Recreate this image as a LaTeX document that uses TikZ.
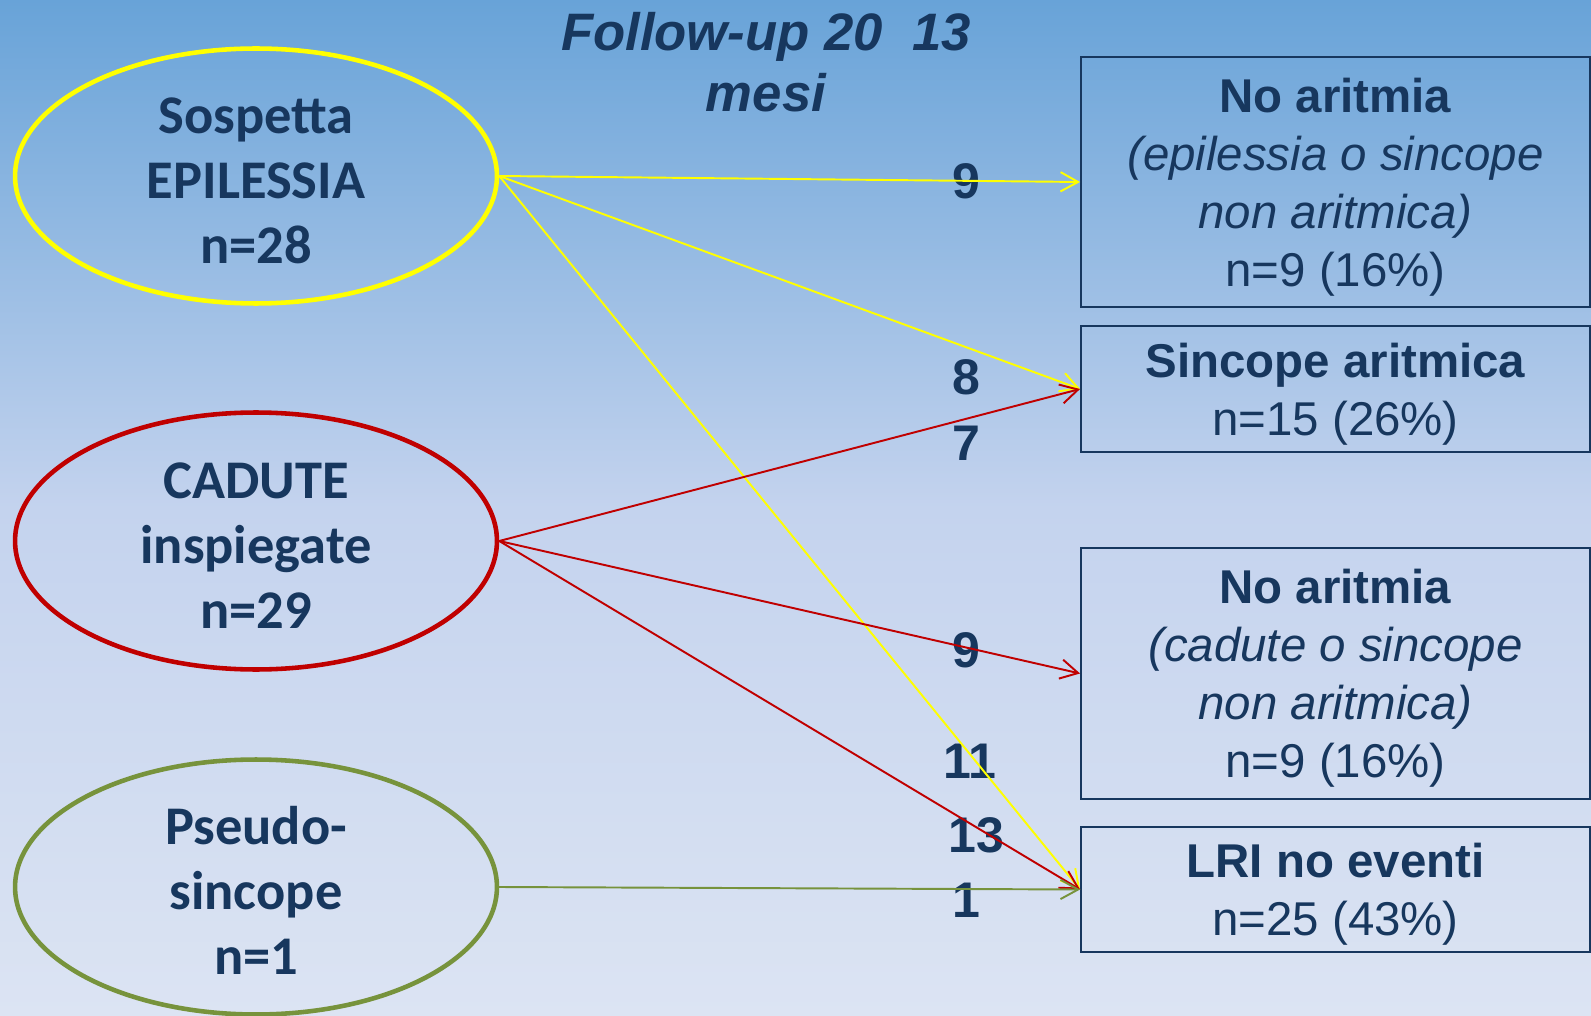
\documentclass[tikz,border=0pt]{standalone}
\usepackage{fontspec}
\setmainfont{Liberation Sans}
\newfontfamily\calfont{Carlito}
\usetikzlibrary{shapes.geometric,arrows.meta}

\definecolor{txtblue}{RGB}{23,55,94}
\definecolor{bgtop}{RGB}{104,163,216}
\definecolor{bgmid}{RGB}{196,211,238}
\definecolor{bgbot}{RGB}{220,228,243}
\definecolor{epiyellow}{RGB}{255,255,0}
\definecolor{fallred}{RGB}{192,0,0}
\definecolor{pseudogreen}{RGB}{119,147,60}

\tikzset{
  group/.style={ellipse, draw, line width=2.6pt, minimum width=9.64cm, minimum height=5.1cm,
    inner sep=0pt, text=txtblue, align=center, text height=100pt, text depth=0pt,
    font=\calfont\bfseries\fontsize{31}{37}\selectfont},
  outcome/.style={rectangle, draw=txtblue, line width=1.1pt, minimum width=10.18cm, inner sep=0pt,
    text=txtblue, align=center, text depth=0pt, font=\fontsize{27}{33}\selectfont},
  flow/.style={-{Straight Barb[length=10pt,width=11pt]}, line width=1.1pt},
  count/.style={text=txtblue, font=\bfseries\fontsize{28.5}{34}\selectfont}
}

\begin{document}
\begin{tikzpicture}[x=0.02cm, y=-0.02cm]
  % background
  \useasboundingbox (0,0) rectangle (1591,1016);
  \shade[top color=bgtop, bottom color=bgbot, middle color=bgmid] (0,0) rectangle (1591,1016);
  % title
  \node (title) [text=txtblue, align=center, font=\bfseries\itshape\fontsize{30}{35}\selectfont]
    at (766,62) {Follow-up 20 \ 13\\mesi};
  % groups
  \node (epi) [group, draw=epiyellow] at (256,176) {Sospetta\\EPILESSIA\\n=28};
  \node (fall) [group, draw=fallred, minimum height=5.14cm] at (256,541) {CADUTE\\inspiegate\\n=29};
  \node (pseudo) [group, draw=pseudogreen] at (256,887) {Pseudo-\\sincope\\n=1};
  % outcomes
  \node (noar1) [outcome, minimum height=5.0cm] at (1335.5,182)
    {\textbf{No aritmia}\\\textit{(epilessia o sincope}\\\textit{non aritmica)}\\n=9 (16\%)};
  \node (sinc) [outcome, minimum height=2.52cm] at (1335.5,389)
    {\textbf{Sincope aritmica}\\n=15 (26\%)};
  \node (noar2) [outcome, minimum height=5.02cm] at (1335.5,673.5)
    {\textbf{No aritmia}\\\textit{(cadute o sincope}\\\textit{non aritmica)}\\n=9 (16\%)};
  \node (lri) [outcome, minimum height=2.5cm] at (1335.5,889.5)
    {\textbf{LRI no eventi}\\n=25 (43\%)};
  % counts
  \node (c1) [count] at (966,181) {9};
  \node (c2) [count] at (966,377) {8};
  \node (c3) [count] at (966,443) {7};
  \node (c4) [count] at (966,650) {9};
  \node (c5) [count] at (970,761) {11};
  \node (c6) [count] at (976,835) {13};
  \node (c7) [count] at (966,900) {1};
  % arrows
  \draw[flow, epiyellow] (epi.east) -- (noar1.west);
  \draw[flow, epiyellow] (epi.east) -- (sinc.west);
  \draw[flow, epiyellow] (epi.east) -- (lri.west);
  \draw[flow, fallred] (fall.east) -- (sinc.west);
  \draw[flow, fallred] (fall.east) -- (noar2.west);
  \draw[flow, fallred] (fall.east) -- (lri.west);
  \draw[flow, pseudogreen] (pseudo.east) -- (lri.west);
\end{tikzpicture}
\end{document}
